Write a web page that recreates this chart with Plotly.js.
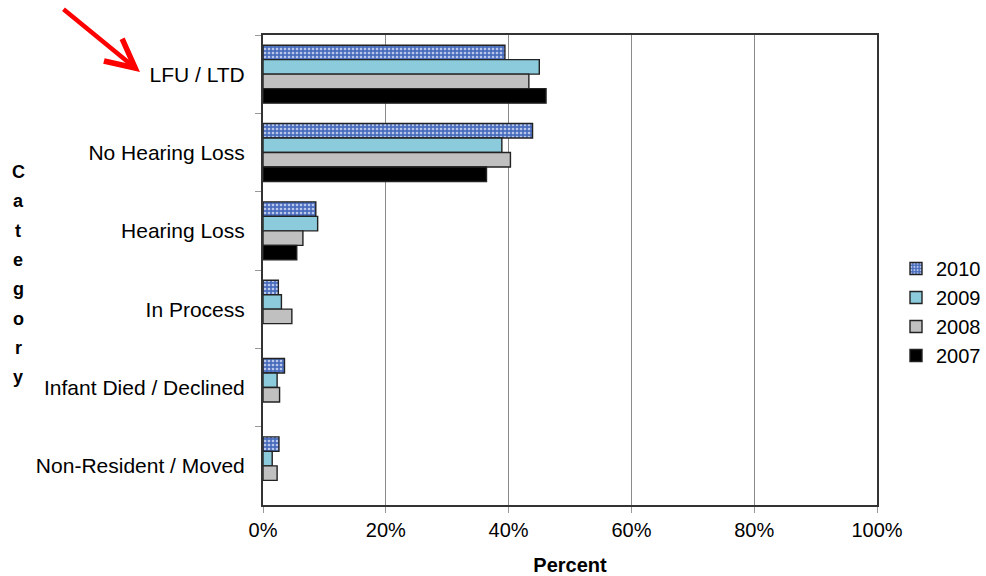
<!DOCTYPE html>
<html>
<head>
<meta charset="utf-8">
<script src="https://cdn.plot.ly/plotly-3.0.1.min.js"></script>
<style>html,body{margin:0;padding:0;background:#fff;}#chart{width:986px;height:576px;}</style>
</head>
<body>
<div id="chart"></div>
<script>
const categories = ["LFU / LTD", "No Hearing Loss", "Hearing Loss", "In Process", "Infant Died / Declined", "Non-Resident / Moved"];
const years = ["2010", "2009", "2008", "2007"];
const values2010 = [39.4, 43.9, 8.6, 2.5, 3.5, 2.6];
const values2009 = [45.0, 38.9, 8.9, 3.0, 2.3, 1.5];
const values2008 = [43.3, 40.3, 6.5, 4.7, 2.7, 2.3];
const values2007 = [46.1, 36.4, 5.5, 0, 0, 0];
const xTickVals = [0, 20, 40, 60, 80, 100];
const xTickText = ["0%", "20%", "40%", "60%", "80%", "100%"];
const yTitle = "Category";
const xTitle = "Percent";

const seriesValues = [values2010, values2009, values2008, values2007];
const styles = [
  {color: "#4a6cbc", pattern: {shape: ".", bgcolor: "#4a6cbc", fgcolor: "#b9c9ee", size: 4, solidity: 0.35}},
  {color: "#8ccbdb"},
  {color: "#c0c0c0"},
  {color: "#000000"}
];

const traces = years.map((yr, i) => ({
  type: "bar",
  orientation: "h",
  name: yr,
  y: categories,
  x: seriesValues[i].map(v => v === 0 ? null : v),
  legendgroup: yr,
  marker: Object.assign({line: {color: "#222", width: 1.4}}, styles[i]),
  hoverinfo: "x+name"
}));

const font = "Liberation Sans, Arial, sans-serif";
const W = 614, H = 470, L = 263, T = 35;
const annotations = [];
// vertical stacked y-axis title letters
const letters = yTitle.split("");
const topPx = 172, stepPx = 29.3;
letters.forEach((ch, i) => {
  const py = topPx + i * stepPx;
  annotations.push({
    xref: "paper", yref: "paper",
    x: (18 - L) / W, y: 1 - (py - T) / H,
    text: "<b>" + ch + "</b>", showarrow: false,
    xanchor: "center", yanchor: "middle",
    font: {family: font, size: 18, color: "#000"}
  });
});
// red arrow
annotations.push({
  xref: "paper", yref: "paper",
  x: (140 - L) / W, y: 1 - (72 - T) / H,
  ax: -78, ay: -64,
  text: "", showarrow: true,
  arrowcolor: "#ff0000", arrowwidth: 4.5, arrowhead: 5, arrowsize: 1.25,
  standoff: 0
});

const layout = {
  width: 986, height: 576,
  margin: {l: L, r: 986 - L - W, t: T, b: 576 - T - H, autoexpand: false},
  paper_bgcolor: "#fff", plot_bgcolor: "#fff",
  barmode: "group", bargap: 0.26, bargroupgap: 0,
  showlegend: true,
  legend: {
    x: (896 - L) / W, xanchor: "left", y: 1 - (312 - T) / H, yanchor: "middle",
    traceorder: "grouped", tracegroupgap: 0,
    font: {family: font, size: 20, color: "#000"},
    itemwidth: 30
  },
  xaxis: {
    range: [0, 100], tickvals: xTickVals, ticktext: xTickText,
    showgrid: true, gridcolor: "#8a8a8a", gridwidth: 1,
    zeroline: false, showline: true, linecolor: "#333", linewidth: 2, mirror: true,
    ticks: "outside", ticklen: 6, tickcolor: "#999",
    tickfont: {family: font, size: 20, color: "#000"},
    title: {text: "<b>" + xTitle + "</b>", font: {family: font, size: 20, color: "#000"}, standoff: 19}
  },
  yaxis: {
    autorange: "reversed", type: "category",
    showgrid: false, zeroline: false, showline: true, linecolor: "#333", linewidth: 2, mirror: true,
    ticks: "outside", tickson: "boundaries", ticklen: 6, tickcolor: "#999",
    tickfont: {family: font, size: 21, color: "#000"},
    ticklabelstandoff: 12
  },
  annotations: annotations,
  font: {family: font}
};

Plotly.newPlot("chart", traces, layout, {displayModeBar: false, staticPlot: true});
</script>
</body>
</html>
